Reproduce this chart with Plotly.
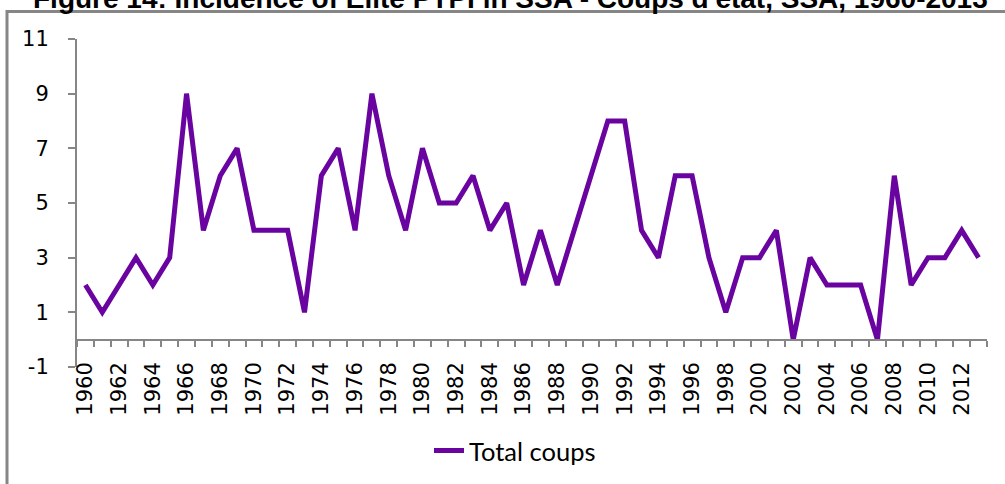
import plotly.graph_objects as go

years = list(range(1960, 2014))
total_coups = [2, 1, 2, 3, 2, 3, 9, 4, 6, 7,
               4, 4, 4, 1, 6, 7, 4, 9, 6, 4,
               7, 5, 5, 6, 4, 5, 2, 4, 2, 4,
               6, 8, 8, 4, 3, 6, 6, 3, 1, 3,
               3, 4, 0, 3, 2, 2, 2, 0, 6, 2,
               3, 3, 4, 3]
series_name = "Total coups"
title_text = "Figure 14: Incidence of Elite PTPI in SSA - Coups d'etat, SSA, 1960-2013"
y_ticks = [-1, 1, 3, 5, 7, 9, 11]
x_label_years = years[::2]

W, H = 1005, 484
L, R, T, B = 77, 18, 39, 117
plot_w = W - L - R
plot_h = H - T - B

def px_x(p):
    return (p - L) / plot_w

def px_y(p):
    return (H - B - p) / plot_h

axis_gray = "#868686"
line_color = "#6A04A0"
tick_font = dict(family="DejaVu Sans", size=21, color="#000000")

boundaries = [y - 0.5 for y in years] + [years[-1] + 0.5]
xr = [years[0] - 0.5, years[-1] + 0.5]

frame_path = "M {l},{b} L {l},{t} L {r},{t}".format(
    l=px_x(7), b=px_y(H + 2), t=px_y(11.5), r=px_x(W + 2))

fig = go.Figure()
fig.add_trace(go.Scatter(
    x=years, y=total_coups, mode="lines", name=series_name,
    line=dict(color=line_color, width=5),
    xaxis="x", yaxis="y",
))
fig.add_trace(go.Scatter(x=[], y=[], xaxis="x2", yaxis="y", showlegend=False, hoverinfo="skip"))

fig.update_layout(
    width=W, height=H,
    margin=dict(l=L, r=R, t=T, b=B, autoexpand=False),
    paper_bgcolor="white", plot_bgcolor="white",
    title=dict(text="<b>" + title_text + "</b>", xref="container", yref="container",
               x=33 / W, xanchor="left", y=1 - 8 / H, yanchor="bottom", pad=dict(t=0, b=0, l=0, r=0),
               font=dict(family="Liberation Sans", size=28, color="#000000")),
    showlegend=True,
    legend=dict(orientation="h", x=px_x(515), xanchor="center", y=px_y(451), yanchor="middle",
                font=dict(family="Lato", size=25.5, color="#000000"), bgcolor="rgba(0,0,0,0)"),
    xaxis=dict(range=xr, anchor="free", position=px_y(357), showline=False, showgrid=False,
               zeroline=False, ticks="", tickvals=x_label_years, automargin=False,
               ticktext=[str(v) for v in x_label_years], tickangle=-90, tickfont=tick_font),
    xaxis2=dict(range=xr, overlaying="x", anchor="free", position=(0 - y_ticks[0]) / (y_ticks[-1] - y_ticks[0]),
                side="bottom", showline=True, linecolor=axis_gray, linewidth=2, automargin=False,
                ticks="outside", ticklen=6, tickwidth=2, tickcolor=axis_gray,
                tickvals=boundaries, showticklabels=False, showgrid=False, zeroline=False),
    yaxis=dict(range=[y_ticks[0], y_ticks[-1]], showline=True, linecolor=axis_gray, linewidth=2,
               ticks="outside", ticklen=7, tickwidth=2, tickcolor=axis_gray, automargin=False,
               tickvals=y_ticks, ticktext=[str(v) for v in y_ticks], tickfont=tick_font,
               ticklabelstandoff=15, showgrid=False, zeroline=False),
    shapes=[
        dict(type="path", xref="paper", yref="paper", path=frame_path,
             line=dict(color=axis_gray, width=3), layer="above"),
    ],
)

fig.write_html("out.html", config={"displayModeBar": False},
               post_script="document.body.style.margin='0';document.body.style.padding='0';")
